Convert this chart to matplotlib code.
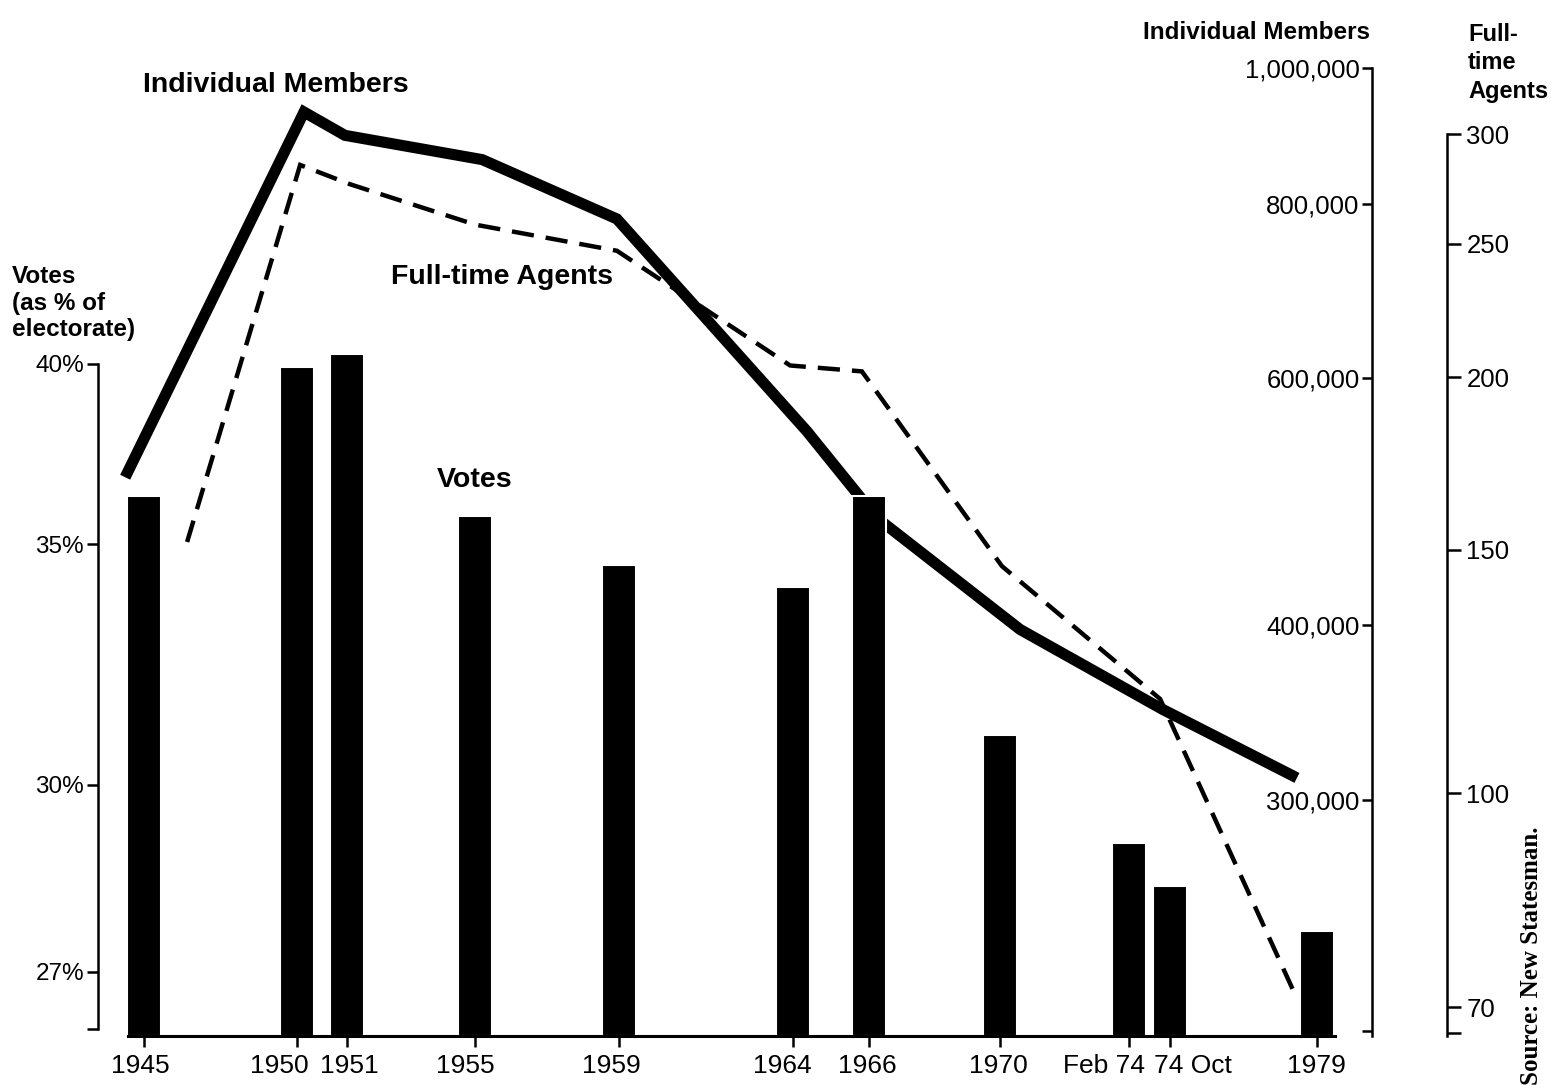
import numpy as np
import matplotlib
matplotlib.use('Agg')
import matplotlib.pyplot as plt
from matplotlib.ticker import FixedLocator, FuncFormatter, NullFormatter, NullLocator
from matplotlib.transforms import ScaledTranslation

plt.rcParams['font.family'] = 'Liberation Sans'

# elections (placed as on the chart, decimal years) and Labour vote as % of electorate
election_labels = ['1945', '1950', '1951', '1955', '1959', '1964', '1966',
                   '1970', 'Feb 74', '74 Oct', '1979']
election_x = [1945.63, 1950.0, 1951.43, 1955.09, 1959.2, 1964.17, 1966.34,
              1970.09, 1973.77, 1974.94, 1979.14]
votes_pct = [36.2, 39.9, 40.3, 35.7, 34.5, 34.0, 36.2, 30.9, 29.0, 28.3, 27.6]

# individual members (solid line)
members_x = [1945.09, 1950.2, 1951.37, 1955.29, 1959.14, 1964.57, 1966.57,
             1970.66, 1974.74, 1978.57]
members = [510000, 930000, 895000, 860000, 780000, 550000, 477000,
           397000, 348000, 311000]

# full-time agents (dashed line)
agents_x = [1946.86, 1950.09, 1951.51, 1955.09, 1959.14, 1964.09, 1966.14,
            1970.14, 1974.66, 1978.46]
agents = [152, 285, 276, 258, 247, 204, 202, 146, 117, 72]

vote_ticks = [27, 30, 35, 40]
member_ticks = [300000, 400000, 600000, 800000, 1000000]
agent_ticks = [70, 100, 150, 200, 250, 300]

# small horizontal nudges of some year labels (pixels)
label_shift = [-4, -18, 2, -10, -8, -11, -2, -2, -25, 23, 0]


def recip(v):
    v = np.asarray(v, dtype=float)
    with np.errstate(divide='ignore'):
        return -1.0 / v


W, H = 1551, 1086
fig = plt.figure(figsize=(W / 100, H / 100), dpi=100)
fig.patch.set_facecolor('white')
left_px, right_px, top_px, bot_px = 98, 1447, 40, 1036
ax = fig.add_axes([left_px / W, 1 - bot_px / H, (right_px - left_px) / W,
                   (bot_px - top_px) / H])
ax_m = ax.twinx()
ax_a = ax.twinx()

ax.set_xlim(1944.314, 1982.857)

# votes: bars, reciprocal scale
vote_floor = 26.1
ax.set_yscale('function', functions=(recip, recip))
ax.set_ylim(vote_floor, 53.8)
ax.bar(election_x, np.array(votes_pct) - vote_floor, bottom=vote_floor,
       width=0.98, color='black', edgecolor='white', linewidth=1.5, zorder=2)

# members
ax_m.set_yscale('log')
ax_m.set_ylim(203400, 1047000)
ax_m.plot(members_x, members, color='black', lw=8,
          solid_joinstyle='miter', solid_capstyle='butt')

# agents
ax_a.set_yscale('log')
ax_a.set_ylim(66.7, 351)
ax_a.plot(agents_x, agents, color='black', lw=3.2, linestyle=(0, (5, 2.7)),
          dash_capstyle='butt', dash_joinstyle='miter')

ax.set_zorder(3)
ax.patch.set_visible(False)

# --- left axis (votes)
for s in ['top', 'right']:
    ax.spines[s].set_visible(False)
ax.spines['left'].set_bounds(26.2, 40)
ax.spines['left'].set_linewidth(1.8)
ax.spines['bottom'].set_bounds(1945.17, 1979.66)
ax.spines['bottom'].set_linewidth(2.2)
ax.yaxis.set_major_locator(FixedLocator(vote_ticks))
ax.yaxis.set_major_formatter(FuncFormatter(lambda v, p: f'{v:.0f}%'))
ax.yaxis.set_minor_locator(FixedLocator([26.2]))
ax.yaxis.set_minor_formatter(NullFormatter())
ax.tick_params(axis='y', which='both', direction='out', length=8, width=1.8,
               labelsize=17.5, pad=2)

ax.set_xticks(election_x)
ax.set_xticklabels(election_labels)
ax.xaxis.set_minor_locator(NullLocator())
ax.tick_params(axis='x', length=8, width=1.8, labelsize=19, pad=5)
for lab, dx in zip(ax.get_xticklabels(), label_shift):
    lab.set_transform(lab.get_transform() +
                      ScaledTranslation(dx / 100, 0, fig.dpi_scale_trans))

# --- members axis
for s in ['top', 'bottom', 'right']:
    ax_m.spines[s].set_visible(False)
ax_m.spines['left'].set_visible(True)
ax_m.spines['left'].set_position(('axes', (1372 - left_px) / (right_px - left_px)))
ax_m.spines['left'].set_bounds(203400, 1000000)
ax_m.spines['left'].set_linewidth(1.8)
ax_m.yaxis.tick_left()
ax_m.yaxis.set_major_locator(FixedLocator(member_ticks))
ax_m.yaxis.set_major_formatter(FuncFormatter(lambda v, p: f'{v:,.0f}'))
ax_m.yaxis.set_minor_locator(FixedLocator([205000]))
ax_m.yaxis.set_minor_formatter(NullFormatter())
ax_m.tick_params(axis='y', which='both', direction='out', length=7, width=1.8,
                 labelsize=18.5, pad=2)

# --- agents axis
for s in ['top', 'bottom', 'left']:
    ax_a.spines[s].set_visible(False)
ax_a.spines['right'].set_bounds(66.7, 300)
ax_a.spines['right'].set_linewidth(1.8)
ax_a.yaxis.tick_right()
ax_a.yaxis.set_major_locator(FixedLocator(agent_ticks))
ax_a.yaxis.set_major_formatter(FuncFormatter(lambda v, p: f'{v:.0f}'))
ax_a.yaxis.set_minor_locator(FixedLocator([67]))
ax_a.yaxis.set_minor_formatter(NullFormatter())
ax_a.tick_params(axis='y', which='both', direction='out', length=10, width=1.8,
                 labelsize=18.5, pad=4)

# --- labels
fig.text(143 / W, 1 - 92 / H, 'Individual Members', fontsize=20.5,
         fontweight='bold', ha='left', va='baseline')
fig.text(391 / W, 1 - 284 / H, 'Full-time Agents', fontsize=20.5,
         fontweight='bold', ha='left', va='baseline')
fig.text(437 / W, 1 - 487 / H, 'Votes', fontsize=20.5,
         fontweight='bold', ha='left', va='baseline')
fig.text(1370 / W, 1 - 39 / H, 'Individual Members', fontsize=17.5,
         fontweight='bold', ha='right', va='baseline')
fig.text(1468 / W, 1 - 23 / H, 'Full-\ntime\nAgents', fontsize=17,
         fontweight='bold', ha='left', va='top', linespacing=1.3)
fig.text(12 / W, 1 - 265 / H, 'Votes\n(as % of\nelectorate)', fontsize=17.5,
         fontweight='bold', ha='left', va='top', linespacing=1.2)
fig.text(1531 / W, 1 / H, 'Source: New Statesman.', rotation=90,
         family='Liberation Serif', fontweight='bold', fontsize=18,
         ha='center', va='bottom')

fig.savefig('out.png', dpi=100)
